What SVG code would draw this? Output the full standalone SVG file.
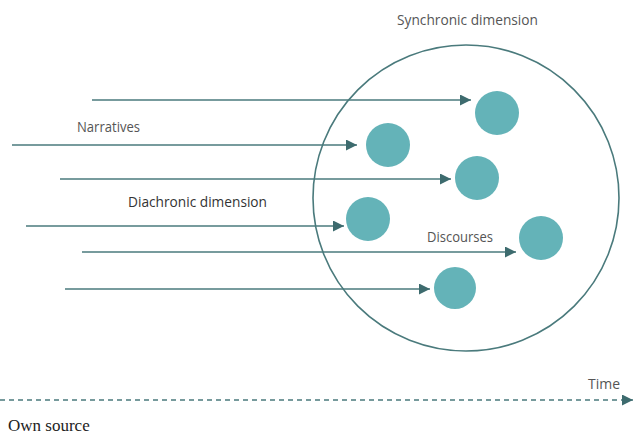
<svg xmlns="http://www.w3.org/2000/svg" width="635" height="434" viewBox="0 0 635 434">
<defs>
<style>
.lbl{font-family:"Open Sans","Noto Sans",sans-serif;font-size:14px;fill:#555}
.dark{fill:#333}
.ln{stroke:#4a7a7c;stroke-width:1.6;fill:none}
.dot{fill:#64b3b8}
</style>
<marker id="ah" viewBox="0 0 10 10" refX="10" refY="5" markerWidth="11" markerHeight="11" markerUnits="userSpaceOnUse" orient="auto">
<path d="M0,0 L10,5 L0,10 z" fill="#3d6b6e"/>
</marker>
</defs>
<rect width="635" height="434" fill="#fff"/>
<g id="synchronic">
<circle cx="466" cy="198" r="153" class="ln" stroke-width="1.4"/>
<text x="397" y="25" class="lbl" textLength="141" lengthAdjust="spacingAndGlyphs">Synchronic dimension</text>
</g>
<g id="connectors">
<line x1="92" y1="100" x2="471" y2="100" class="ln" marker-end="url(#ah)"/>
<line x1="12" y1="145" x2="357" y2="145" class="ln" marker-end="url(#ah)"/>
<line x1="60" y1="179" x2="451" y2="179" class="ln" marker-end="url(#ah)"/>
<line x1="26" y1="226" x2="344" y2="226" class="ln" marker-end="url(#ah)"/>
<line x1="82" y1="252" x2="516" y2="252" class="ln" marker-end="url(#ah)"/>
<line x1="65" y1="289" x2="430" y2="289" class="ln" marker-end="url(#ah)"/>
<line x1="0" y1="400" x2="633" y2="400" class="ln" stroke-dasharray="5 4" marker-end="url(#ah)"/>
</g>
<g id="dot1"><circle cx="497" cy="113" r="22" class="dot"/></g>
<g id="dot2"><circle cx="388" cy="145" r="22" class="dot"/></g>
<g id="dot3"><circle cx="477" cy="178" r="22" class="dot"/></g>
<g id="dot4"><circle cx="368" cy="219" r="22" class="dot"/></g>
<g id="dot5"><circle cx="541" cy="238" r="22" class="dot"/></g>
<g id="dot6"><circle cx="455" cy="288" r="21" class="dot"/></g>
<g id="labels">
<text x="77" y="132" class="lbl" textLength="63" lengthAdjust="spacingAndGlyphs">Narratives</text>
<text x="128" y="207" class="lbl dark" textLength="139" lengthAdjust="spacingAndGlyphs">Diachronic dimension</text>
<text x="427" y="242" class="lbl" textLength="66" lengthAdjust="spacingAndGlyphs">Discourses</text>
<text x="588" y="389" class="lbl" textLength="32" lengthAdjust="spacingAndGlyphs">Time</text>
<text x="8" y="431" font-family="Liberation Serif,serif" font-size="17" fill="#222">Own source</text>
</g>
</svg>
